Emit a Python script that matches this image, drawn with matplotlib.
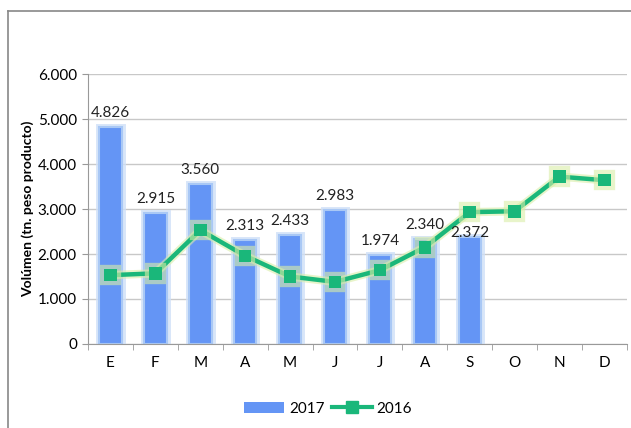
import matplotlib.pyplot as plt
import matplotlib.patheffects as pe
from matplotlib.ticker import FuncFormatter, FixedLocator
from matplotlib.lines import Line2D
from matplotlib.patches import Patch

plt.rcParams['font.family'] = ['Lato', 'DejaVu Sans']

meses = ["E", "F", "M", "A", "M", "J", "J", "A", "S", "O", "N", "D"]
vol_2017 = [4826, 2915, 3560, 2313, 2433, 2983, 1974, 2340, 2372]
vol_2016 = [1530, 1570, 2530, 1960, 1500, 1380, 1640, 2150, 2930, 2950, 3720, 3640]

def miles(v, pos=None):
    return f"{v:,.0f}".replace(",", ".")

fig = plt.figure(figsize=(6.31, 4.28), dpi=100)
ax = fig.add_axes([0.1395, 0.1963, 0.854, 0.6307])

x17 = range(len(vol_2017))
x16 = range(len(vol_2016))

bars = ax.bar(x17, vol_2017, width=0.5, color='#6495f5', zorder=2,
              edgecolor='#a9c8f5', linewidth=1.5)
for b in bars:
    b.set_path_effects([pe.Stroke(linewidth=5, foreground='#cfe0f8', alpha=0.8),
                        pe.Normal()])

ax.plot(x16, vol_2016, color='#1ab77a', linewidth=3.2, marker='s',
        markersize=9, zorder=3, markeredgewidth=0,
        path_effects=[pe.Stroke(linewidth=6, foreground='#d9eea8', alpha=0.6),
                      pe.Normal()])

for i, v in enumerate(vol_2017):
    dy = 5 if i != 8 else -2
    ax.annotate(miles(v), (i, v), xytext=(0, dy), textcoords='offset points',
                ha='center', va='bottom', fontsize=11, color='#222222', zorder=4)

ax.set_xlim(-0.5, 11.5)
ax.set_ylim(0, 6000)
ax.set_yticks(range(0, 6001, 1000))
ax.yaxis.set_major_formatter(FuncFormatter(miles))
ax.set_xticks(range(len(meses)))
ax.set_xticklabels(meses)
ax.xaxis.set_minor_locator(FixedLocator([i - 0.5 for i in range(13)]))
ax.tick_params(axis='x', which='major', length=0, pad=9, labelsize=11)
ax.tick_params(axis='x', which='minor', length=4, color='#999999', direction='out')
ax.tick_params(axis='y', length=4, color='#999999', labelsize=11, pad=4)

ax.grid(axis='y', color='#c8c8c8', linewidth=1, zorder=0)
ax.set_axisbelow(True)
for s in ['top', 'right']:
    ax.spines[s].set_visible(False)
for s in ['left', 'bottom']:
    ax.spines[s].set_color('#999999')

ax.set_ylabel("Volúmen (tn. peso producto)", fontsize=10, fontweight='bold',
              labelpad=3)

handles = [Patch(facecolor='#6495f5', edgecolor='none'),
           Line2D([0], [0], color='#1ab77a', linewidth=3, marker='s', markersize=8)]
fig.legend(handles, ['2017', '2016'], loc='center', bbox_to_anchor=(0.52, 0.045),
           ncol=2, frameon=False, fontsize=11, handlelength=2.6, columnspacing=0.5,
           handletextpad=0.3)

# borde del gráfico
fig.add_artist(Line2D([0.0127, 0.0127], [0, 0.974], color='#888888', linewidth=1.2,
                      transform=fig.transFigure))
fig.add_artist(Line2D([0.0127, 1.0], [0.974, 0.974], color='#888888', linewidth=1.2,
                      transform=fig.transFigure))

fig.savefig('out.png', dpi=100)
